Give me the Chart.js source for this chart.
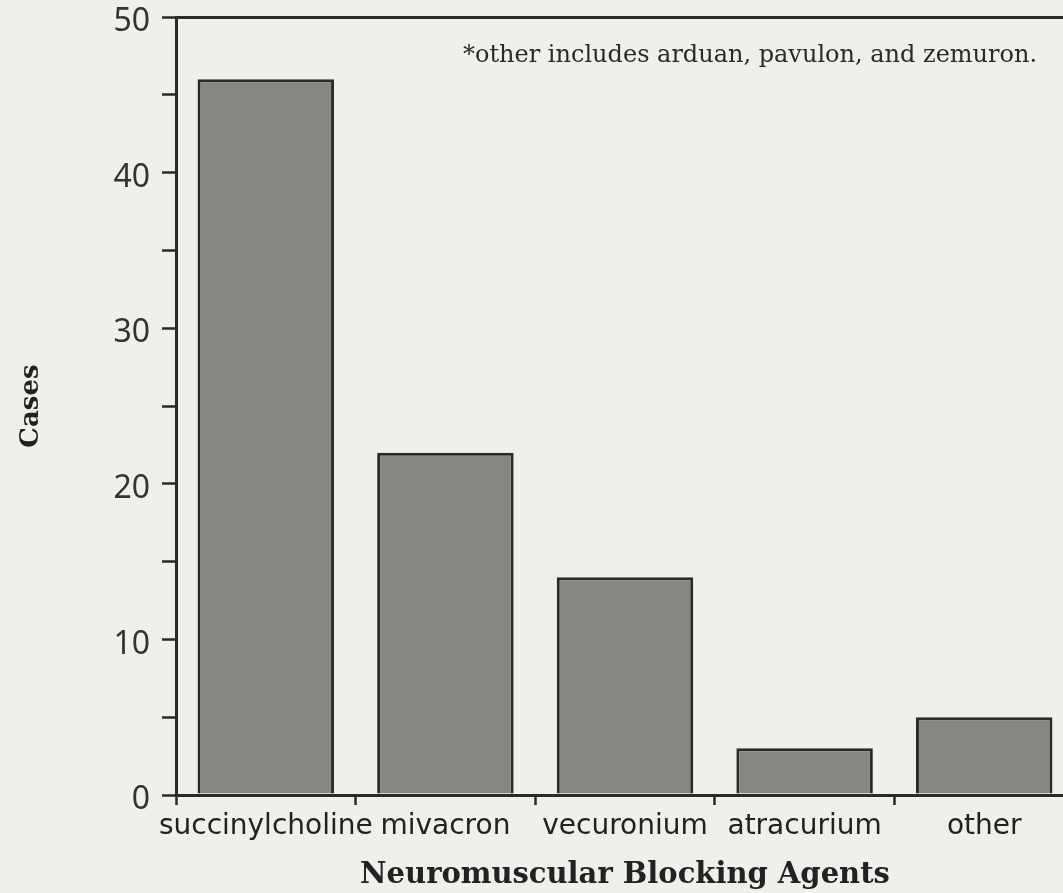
<!DOCTYPE html>
<html>
<head>
<meta charset="utf-8">
<script src="https://cdn.jsdelivr.net/npm/chart.js@4/dist/chart.umd.min.js"></script>
<style>
  html, body { margin: 0; padding: 0; overflow: hidden; background: #efefec; }
  #wrap { width: 1074px; height: 893px; position: relative; }
</style>
</head>
<body>
<div id="wrap"><canvas id="chart-nmba"></canvas></div>
<script>
var categories = ["succinylcholine", "mivacron", "vecuronium", "atracurium", "other"];
var cases = [46, 22, 14, 3, 5];
var yTickLabels = [0, 10, 20, 30, 40, 50];

var ink = '#2b2b25';

// footnote in the upper right of the plot
var footnote = {
    id: 'footnote',
    afterDraw: function(chart) {
        var ctx = chart.ctx, area = chart.chartArea;
        ctx.save();
        ctx.font = '24px "DejaVu Serif"';
        ctx.fillStyle = '#2a2a26';
        ctx.textBaseline = 'alphabetic';
        ctx.fillText('*other includes arduan, pavulon, and zemuron.', area.left + 287, area.top + 45);
        ctx.restore();
    }
};

var chartN = document.getElementById("chart-nmba");
var chartNmba = new Chart(chartN, {
    type: 'bar',
    plugins: [footnote],
    data: {
        labels: categories,
        datasets: [{
            data: cases,
            backgroundColor: '#878782',
            borderColor: ink,
            borderWidth: 3,
            barPercentage: 0.76,
            categoryPercentage: 1.0
        }]
    },
    options: {
        responsive: true,
        maintainAspectRatio: false,
        animation: false,
        layout: { autoPadding: false, padding: { top: 17, left: 0, right: 0, bottom: 0 } },
        plugins: {
            legend: { display: false },
            tooltip: { enabled: false }
        },
        scales: {
            x: {
                grid: {
                    offset: true,
                    drawOnChartArea: false,
                    tickLength: 10,
                    tickColor: ink,
                    tickWidth: 2.5
                },
                border: { color: ink, width: 3 },
                ticks: {
                    font: { family: 'DejaVu Sans', size: 28 },
                    color: '#222',
                    padding: 5,
                    maxRotation: 0,
                    autoSkip: false
                },
                title: {
                    display: true,
                    text: 'Neuromuscular Blocking Agents',
                    font: { family: 'DejaVu Serif', weight: 'bold', size: 29 },
                    color: '#222',
                    padding: { top: 2, bottom: 0 }
                },
                afterFit: function(s) { s.height = 98; s.paddingLeft = 0; s.paddingRight = 0; }
            },
            y: {
                min: 0,
                max: 50,
                ticks: {
                    stepSize: 5,
                    callback: function(v) { return yTickLabels.indexOf(v) >= 0 ? v : ''; },
                    font: { family: 'Noto Sans', size: 32 },
                    color: '#333',
                    padding: 12,
                    labelOffset: 5
                },
                grid: {
                    color: function(c) { return c.tick && c.tick.value === 50 ? ink : 'rgba(0,0,0,0)'; },
                    lineWidth: 3,
                    tickColor: ink,
                    tickLength: 14,
                    tickWidth: 2.5
                },
                border: { color: ink, width: 3 },
                title: {
                    display: true,
                    text: 'Cases',
                    font: { family: 'DejaVu Serif', weight: 'bold', size: 26 },
                    color: '#222',
                    padding: { top: 16, bottom: 0 }
                },
                afterFit: function(s) { s.width = 176; s.paddingTop = 0; s.paddingBottom = 0; }
            }
        }
    }
});
</script>
</body>
</html>
